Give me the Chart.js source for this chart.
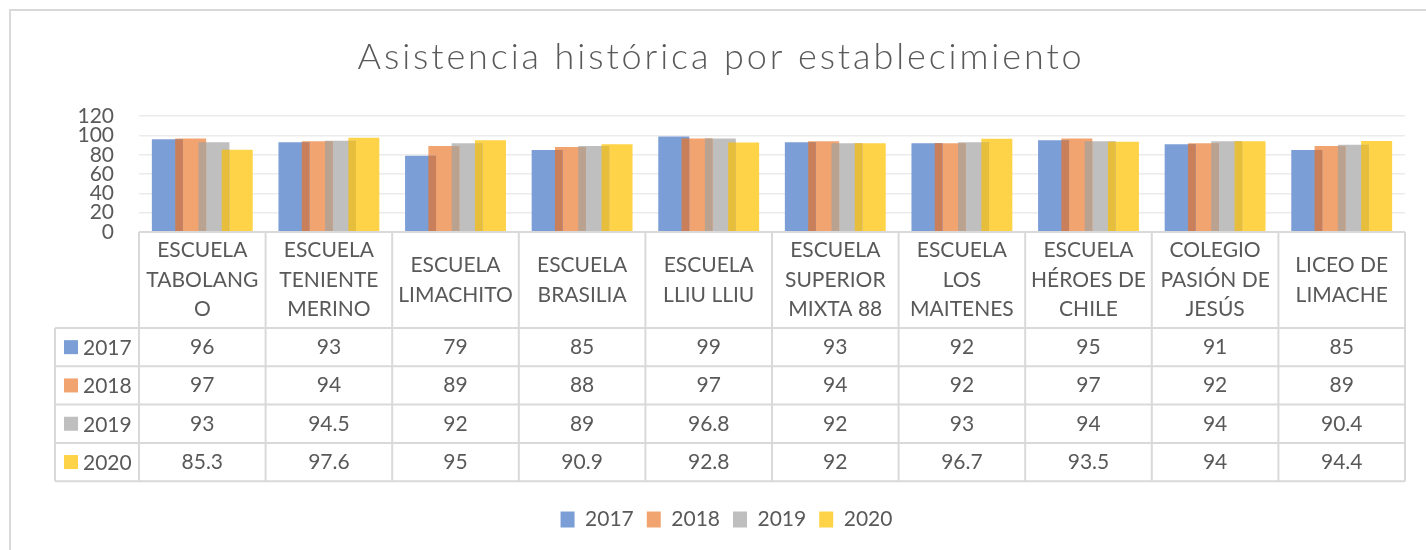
<!DOCTYPE html>
<html>
<head>
<meta charset="utf-8">
<script src="https://cdn.jsdelivr.net/npm/chart.js@4"></script>
<style>
  html, body { margin: 0; padding: 0; background: #fff; overflow: hidden; }
  #frame { position: absolute; left: 9px; top: 9px; width: 2000px; height: 2000px;
           border-left: 2px solid #D9D9D9; border-top: 2px solid #D9D9D9; }
  #wrap { position: absolute; left: 0; top: 0; width: 1426px; height: 550px; }
</style>
</head>
<body>
<div id="frame"></div>
<div id="wrap"><canvas id="chart"></canvas></div>
<script>
// category labels (already broken into lines like the original table header)
const categories = [
  ['ESCUELA', 'TABOLANG', 'O'],
  ['ESCUELA', 'TENIENTE', 'MERINO'],
  ['ESCUELA', 'LIMACHITO'],
  ['ESCUELA', 'BRASILIA'],
  ['ESCUELA', 'LLIU LLIU'],
  ['ESCUELA', 'SUPERIOR', 'MIXTA 88'],
  ['ESCUELA', 'LOS', 'MAITENES'],
  ['ESCUELA', 'HÉROES DE', 'CHILE'],
  ['COLEGIO', 'PASIÓN DE', 'JESÚS'],
  ['LICEO DE', 'LIMACHE']
];
const years = ['2017', '2018', '2019', '2020'];
const v2017 = [96, 93, 79, 85, 99, 93, 92, 95, 91, 85];
const v2018 = [97, 94, 89, 88, 97, 94, 92, 97, 92, 89];
const v2019 = [93, 94.5, 92, 89, 96.8, 92, 93, 94, 94, 90.4];
const v2020 = [85.3, 97.6, 95, 90.9, 92.8, 92, 96.7, 93.5, 94, 94.4];
const yTicks = [0, 20, 40, 60, 80, 100, 120];
const TITLE = 'Asistencia histórica por establecimiento';

const series = [v2017, v2018, v2019, v2020];
const colors = ['#7B9ED6', '#F2A470', '#BFBFBF', '#FFD348'];
// darker strip where a bar sits on top of the previous one
const overlapColors = [null, '#C9805A', '#BAA291', '#E6BE3C'];
const TEXT = '#595959';
const LINE = '#D9D9D9';
const FONT = 'Lato, "Liberation Sans", sans-serif';

Chart.defaults.font.family = FONT;
Chart.defaults.color = TEXT;

const overlapPlugin = {
  id: 'overlap',
  afterDatasetsDraw(chart) {
    const ctx = chart.ctx;
    ctx.save();
    for (let i = 1; i < series.length; i++) {
      const prev = chart.getDatasetMeta(i - 1).data;
      chart.getDatasetMeta(i).data.forEach((bar, j) => {
        const p = prev[j];
        const left = bar.x - bar.width / 2;
        const right = p.x + p.width / 2;
        if (right <= left) return;
        const top = Math.max(bar.y, p.y);
        ctx.fillStyle = overlapColors[i];
        ctx.fillRect(left, top, right - left, bar.base - top);
      });
    }
    ctx.restore();
  }
};

// title drawn by hand so it can get the wide letter spacing of the original
const titlePlugin = {
  id: 'spacedTitle',
  afterDraw(chart) {
    const tb = chart.titleBlock;
    const opts = chart.options.plugins.title;
    const ctx = chart.ctx;
    ctx.save();
    ctx.font = '300 36px ' + FONT;
    ctx.letterSpacing = '2.9px';
    ctx.fillStyle = TEXT;
    ctx.textAlign = 'center';
    ctx.textBaseline = 'middle';
    ctx.fillText(TITLE, 721, tb.top + opts.padding.top + 36 * 1.2 / 2);
    ctx.restore();
  }
};

const tablePlugin = {
  id: 'dataTable',
  afterDraw(chart) {
    const ctx = chart.ctx, area = chart.chartArea, x = chart.scales.x;
    const colW = x.width / categories.length;
    const top = area.bottom, headH = 96, rowH = 38.3, legL = 55;
    const headB = top + headH;
    const bottom = headB + rowH * series.length;
    ctx.save();
    ctx.strokeStyle = LINE;
    ctx.lineWidth = 2;
    ctx.beginPath();
    ctx.moveTo(area.left, top); ctx.lineTo(area.right, top);
    for (let r = 0; r <= series.length; r++) {
      const y = headB + r * rowH;
      ctx.moveTo(legL, y); ctx.lineTo(area.right, y);
    }
    ctx.moveTo(legL, headB); ctx.lineTo(legL, bottom);
    for (let k = 0; k <= categories.length; k++) {
      const xx = area.left + k * colW;
      ctx.moveTo(xx, top); ctx.lineTo(xx, bottom);
    }
    ctx.stroke();

    ctx.fillStyle = TEXT;
    ctx.font = '21px ' + FONT;
    ctx.textAlign = 'center';
    ctx.textBaseline = 'middle';
    const lh = 29.5;
    categories.forEach((lines, j) => {
      const cx = x.getPixelForValue(j);
      const y0 = top + headH / 2 - (lines.length - 1) * lh / 2;
      lines.forEach((t, k) => ctx.fillText(t, cx, y0 + k * lh));
    });
    series.forEach((vals, r) => {
      const cy = headB + r * rowH + rowH / 2;
      vals.forEach((v, j) => ctx.fillText(String(v), x.getPixelForValue(j), cy));
      ctx.fillStyle = colors[r];
      ctx.fillRect(64, cy - 7, 14, 14);
      ctx.fillStyle = TEXT;
      ctx.textAlign = 'left';
      ctx.fillText(years[r], 83, cy + 1);
      ctx.textAlign = 'center';
    });
    ctx.restore();
  }
};

new Chart(document.getElementById('chart'), {
  type: 'bar',
  data: {
    labels: categories,
    datasets: years.map((y, i) => ({
      label: y,
      data: series[i],
      backgroundColor: colors[i],
      borderWidth: 0,
      categoryPercentage: 0.736,
      barPercentage: 1.33
    }))
  },
  options: {
    responsive: true,
    maintainAspectRatio: false,
    animation: false,
    layout: { padding: { left: 48, right: 21, top: 10, bottom: 10 } },
    plugins: {
      title: {
        display: true,
        text: TITLE,
        color: 'rgba(0,0,0,0)',
        font: { size: 36, weight: '300', family: FONT },
        padding: { top: 26, bottom: 37 }
      },
      legend: {
        position: 'bottom',
        labels: { boxWidth: 14, boxHeight: 16, padding: 13, color: TEXT, font: { size: 21 } }
      },
      tooltip: { enabled: false }
    },
    scales: {
      x: {
        ticks: { display: false },
        grid: { display: false, drawTicks: false },
        border: { display: false },
        afterFit(scale) { scale.height = 264; }
      },
      y: {
        min: 0, max: 120,
        afterBuildTicks(scale) { scale.ticks = yTicks.map(v => ({ value: v })); },
        ticks: { padding: 25, color: TEXT, autoSkip: false, font: { size: 21 } },
        grid: { color: '#EBEBEB', lineWidth: 1.5, drawTicks: false },
        border: { display: false },
        afterFit(scale) { scale.width = 91; }
      }
    }
  },
  plugins: [overlapPlugin, tablePlugin, titlePlugin]
});
</script>
</body>
</html>
